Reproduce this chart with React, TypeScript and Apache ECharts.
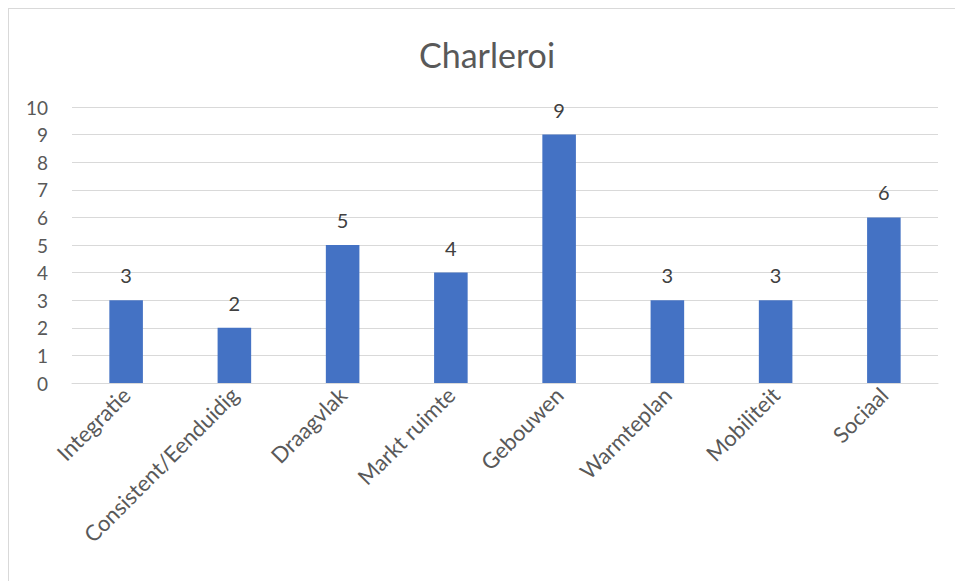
import React, { useEffect, useRef } from "react";
import * as echarts from "echarts";

const categories = [
  "Integratie",
  "Consistent/Eenduidig",
  "Draagvlak",
  "Markt ruimte",
  "Gebouwen",
  "Warmteplan",
  "Mobiliteit",
  "Sociaal",
];
const values = [3, 2, 5, 4, 9, 3, 3, 6];
const titleText = "Charleroi";

export default function App() {
  const ref = useRef<HTMLDivElement>(null);
  useEffect(() => {
    if (!ref.current) return;
    const chart = echarts.init(ref.current, undefined, { renderer: "svg" });
    const font = "Lato, 'Open Sans', sans-serif";
    chart.setOption({
      animation: false,
      backgroundColor: "#ffffff",
      title: {
        text: titleText,
        left: 405,
        top: 23,
        textStyle: { fontFamily: font, fontSize: 34, fontWeight: "normal", color: "#595959" },
      },
      grid: { left: 63, right: 17, top: 98, bottom: 198, containLabel: false },
      xAxis: {
        type: "category",
        data: categories,
        axisLine: { show: true, lineStyle: { color: "#d9d9d9", width: 1 } },
        axisTick: { show: false },
        axisLabel: {
          rotate: 45,
          interval: 0,
          margin: 8,
          fontFamily: font,
          fontSize: 22,
          color: "#595959",
        },
      },
      yAxis: {
        type: "value",
        min: 0,
        max: 10,
        interval: 1,
        axisLine: { show: false },
        axisTick: { show: false },
        splitLine: { lineStyle: { color: "#d9d9d9", width: 1 } },
        axisLabel: { margin: 24, fontFamily: font, fontSize: 19, color: "#595959" },
      },
      series: [
        {
          type: "bar",
          data: values,
          barWidth: "31%",
          itemStyle: { color: "#4472C4" },
          label: {
            show: true,
            position: "top",
            distance: 15,
            fontFamily: font,
            fontSize: 20,
            color: "#404040",
          },
        },
      ],
    });
    return () => chart.dispose();
  }, []);
  return (
    <div
      style={{
        position: "absolute",
        left: 8,
        top: 8,
        width: 946,
        height: 572,
        borderLeft: "1px solid #d9d9d9",
        borderTop: "1px solid #d9d9d9",
        overflow: "hidden",
      }}
    >
      <div ref={ref} style={{ width: 946, height: 572 }} />
    </div>
  );
}
